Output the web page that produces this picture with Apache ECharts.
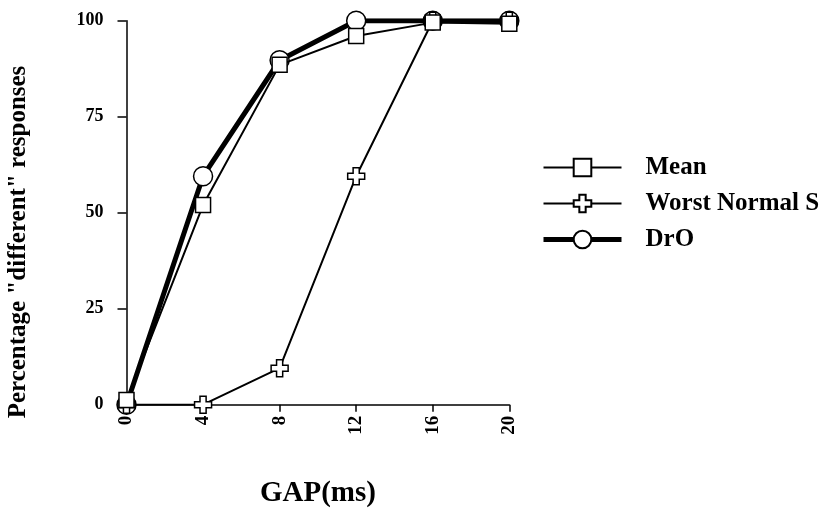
<!DOCTYPE html>
<html>
<head>
<meta charset="utf-8">
<script src="https://cdn.jsdelivr.net/npm/echarts@6/dist/echarts.min.js"></script>
<style>html,body{margin:0;padding:0;background:#fff}#c{width:832px;height:515px}</style>
</head>
<body>
<div id="c"></div>
<script>
const gaps = [0, 4, 8, 12, 16, 20];
const meanVals = [1.2, 52, 88.5, 96, 99.5, 99.2];
const worstVals = [0, 0, 9.5, 59.5, 100, 100];
const droVals = [0, 59.5, 89.7, 100, 100, 100];
const yTicks = [0, 25, 50, 75, 100];
const seriesNames = ['Mean', 'Worst Normal S', 'DrO'];
const yTitle = 'Percentage "different" responses';
const xTitle = 'GAP(ms)';

const FONT = "'Liberation Serif', 'Times New Roman', serif";
const crossPath = 'path://M3.2,0H6.8V3.2H10V6.8H6.8V10H3.2V6.8H0V3.2H3.2Z';
const pairs = vals => gaps.map((g, i) => [g, vals[i]]);
const legendWidths = [2, 2, 5];

const chart = echarts.init(document.getElementById('c'), null, {renderer: 'canvas'});
chart.setOption({
  animation: false,
  backgroundColor: '#fff',
  grid: {left: 126.5, right: 322.7, top: 20.7, bottom: 110.3, containLabel: false},
  legend: {
    data: seriesNames.map((n, i) => ({name: n, lineStyle: {width: legendWidths[i]}})),
    orient: 'vertical',
    left: 541, top: 155, padding: 0,
    itemWidth: 78, itemHeight: 22, itemGap: 11,
    textStyle: {fontFamily: FONT, fontWeight: 'bold', fontSize: 25, color: '#000', padding: [0, 0, 0, 19]},
    selectedMode: false
  },
  graphic: [{
    type: 'text', x: 19, y: 242, rotation: Math.PI / 2,
    style: {text: yTitle, fontFamily: FONT, fontWeight: 'bold', fontSize: 25, fill: '#000',
      align: 'center', verticalAlign: 'middle'}
  }],
  xAxis: {
    type: 'value', min: 0, max: 20, interval: 4,
    name: xTitle, nameLocation: 'middle', nameGap: 74,
    nameTextStyle: {fontFamily: FONT, fontWeight: 'bold', fontSize: 29, color: '#000'},
    axisLine: {lineStyle: {color: '#000', width: 1.5}},
    axisTick: {show: true, length: 7, inside: false, lineStyle: {color: '#000', width: 1.5}},
    axisLabel: {rotate: 90, margin: 11, fontFamily: FONT, fontWeight: 'bold', fontSize: 19, color: '#000'},
    splitLine: {show: false}
  },
  yAxis: {
    type: 'value', min: 0, max: 100, interval: 25,
    axisLine: {show: true, lineStyle: {color: '#000', width: 1.5}},
    axisTick: {show: true, length: 9, inside: false, lineStyle: {color: '#000', width: 1.5}},
    axisLabel: {margin: 23, fontFamily: FONT, fontWeight: 'bold', fontSize: 18, color: '#000',
      formatter: v => yTicks.includes(v) ? String(v) : ''},
    splitLine: {show: false}
  },
  series: [
    {
      name: 'DrO', type: 'line', data: pairs(droVals),
      symbol: 'circle', symbolSize: 19,
      lineStyle: {color: '#000', width: 5},
      itemStyle: {color: '#fff', borderColor: '#000', borderWidth: 1.5},
      z: 2
    },
    {
      name: 'Worst Normal S', type: 'line', data: pairs(worstVals),
      symbol: crossPath, symbolSize: 17,
      lineStyle: {color: '#000', width: 2},
      itemStyle: {color: '#fff', borderColor: '#000', borderWidth: 1.5},
      z: 3
    },
    {
      name: 'Mean', type: 'line', data: pairs(meanVals),
      symbol: 'rect', symbolSize: 15,
      lineStyle: {color: '#000', width: 2},
      itemStyle: {color: '#fff', borderColor: '#000', borderWidth: 1.5},
      z: 4
    }
  ]
});
</script>
</body>
</html>
